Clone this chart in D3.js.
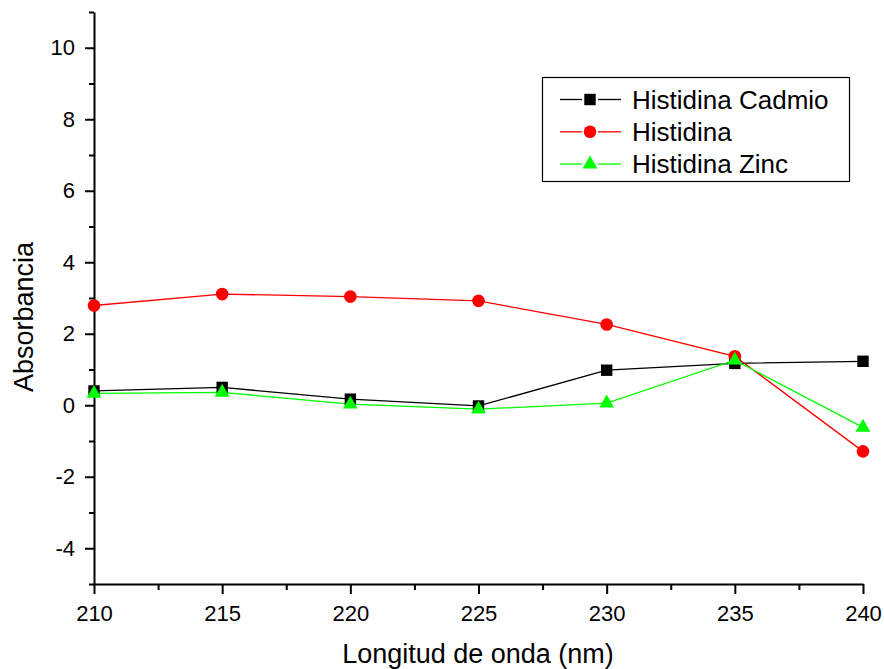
<html lang="es">
    <head>
        <title>Absorbancia vs Longitud de onda</title>
        <meta charset="utf-8">
        <script src="https://d3js.org/d3.v7.min.js"></script>
        <style>
            body { margin: 0; background: #fff; }
            text { font-family: "Liberation Sans", Arial, sans-serif; }
        </style>
    </head>
    <body>
        <div id="svg">
            <svg width="884" height="669"></svg>
        </div>

        <script>
            // data
            var wavelengths = [210, 215, 220, 225, 230, 235, 240];
            var cadmio = [0.40, 0.50, 0.17, -0.02, 0.98, 1.17, 1.23];
            var histidina = [2.79, 3.11, 3.04, 2.92, 2.26, 1.37, -1.29];
            var zinc = [0.33, 0.36, 0.03, -0.11, 0.06, 1.26, -0.62];
            var xTicks = [210, 215, 220, 225, 230, 235, 240];
            var yTicks = [-4, -2, 0, 2, 4, 6, 8, 10];

            var series = [
                { name: "Histidina Cadmio", values: cadmio, color: "#000000", shape: d3.symbolSquare },
                { name: "Histidina", values: histidina, color: "#ff0000", shape: d3.symbolCircle },
                { name: "Histidina Zinc", values: zinc, color: "#00ff00", shape: d3.symbolTriangle }
            ];

            var svg = d3.select("svg");

            var xScale = d3.scaleLinear().domain([210, 240]).range([94, 863]),
                yScale = d3.scaleLinear().domain([-5, 11]).range([584, 12]);

            // plain hyphen for negatives, like the original
            var plain = function(d) { return String(d); };

            // minor ticks first, then major axes on top
            svg.append("g")
                .attr("transform", "translate(0,584)")
                .call(d3.axisBottom(xScale).tickValues(d3.range(212.5, 240, 5)).tickSize(6).tickFormat(""))
                .call(function(g) { g.select(".domain").remove(); });
            svg.append("g")
                .attr("transform", "translate(94,0)")
                .call(d3.axisLeft(yScale).tickValues(d3.range(-5, 12, 2)).tickSize(5).tickFormat(""))
                .call(function(g) { g.select(".domain").remove(); });

            var xAxis = svg.append("g")
                .attr("transform", "translate(0,584)")
                .attr("font-size", 22)
                .call(d3.axisBottom(xScale).tickValues(xTicks).tickFormat(plain).tickSize(10).tickSizeOuter(0).tickPadding(11));

            var yAxis = svg.append("g")
                .attr("transform", "translate(94,0)")
                .attr("font-size", 22)
                .call(d3.axisLeft(yScale).tickValues(yTicks).tickFormat(plain).tickSize(9).tickSizeOuter(0).tickPadding(10));

            svg.selectAll(".domain, .tick line").attr("stroke", "#000").attr("stroke-width", 2);
            svg.selectAll(".tick text")
                .attr("fill", "#000")
                .style("font-size", "22px")
                .style("font-family", "'Liberation Sans', Arial, sans-serif");

            svg.append("text")
                .attr("x", 478)
                .attr("y", 663)
                .attr("text-anchor", "middle")
                .style("font-size", "27px")
                .text("Longitud de onda (nm)");

            svg.append("text")
                .attr("transform", "translate(33,317) rotate(-90)")
                .attr("text-anchor", "middle")
                .style("font-size", "27px")
                .text("Absorbancia");

            var line = d3.line()
                .x(function(d, i) { return xScale(wavelengths[i]); })
                .y(function(d) { return yScale(d); });

            var symbolSize = { "Histidina Cadmio": 130, "Histidina": 125, "Histidina Zinc": 95 };

            series.forEach(function(s) {
                svg.append("path")
                    .attr("d", line(s.values))
                    .attr("fill", "none")
                    .attr("stroke", s.color)
                    .attr("stroke-width", 1.3);
            });

            series.forEach(function(s) {
                svg.selectAll(null)
                    .data(s.values)
                    .enter().append("path")
                    .attr("d", d3.symbol().type(s.shape).size(symbolSize[s.name]))
                    .attr("transform", function(d, i) {
                        return "translate(" + xScale(wavelengths[i]) + "," + yScale(d) + ")";
                    })
                    .attr("fill", s.color);
            });

            // legend
            var legend = svg.append("g");
            legend.append("rect")
                .attr("x", 542.5).attr("y", 77.5)
                .attr("width", 307).attr("height", 104)
                .attr("fill", "#fff").attr("stroke", "#000").attr("stroke-width", 1.2);

            series.forEach(function(s, i) {
                var y = 99.5 + i * 32.3;
                legend.append("line").attr("x1", 560).attr("x2", 582).attr("y1", y).attr("y2", y)
                    .attr("stroke", s.color).attr("stroke-width", 1.3);
                legend.append("line").attr("x1", 598).attr("x2", 621).attr("y1", y).attr("y2", y)
                    .attr("stroke", s.color).attr("stroke-width", 1.3);
                legend.append("path")
                    .attr("d", d3.symbol().type(s.shape).size(symbolSize[s.name]))
                    .attr("transform", "translate(590," + y + ")")
                    .attr("fill", s.color);
                legend.append("text")
                    .attr("x", 632)
                    .attr("y", y + 9)
                    .style("font-size", "26px")
                    .text(s.name);
            });
        </script>
    </body>
</html>
